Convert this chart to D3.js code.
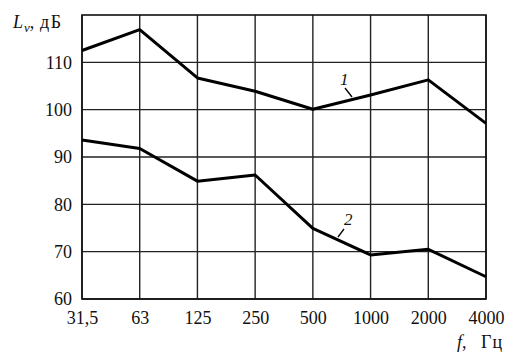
<!DOCTYPE html>
<html><head><meta charset="utf-8">
<script src="https://cdn.jsdelivr.net/npm/d3@7"></script>
<style>body{margin:0;background:#fff}svg{display:block}text{font-family:"Liberation Serif","Times New Roman","DejaVu Serif",serif;fill:#111}</style>
</head><body>
<svg id="c" width="516" height="360"></svg>
<script>
const categories = ["31,5","63","125","250","500","1000","2000","4000"];
const series1 = [112.5,116.9,106.7,103.9,100.1,103.1,106.3,97.1];
const series2 = [93.6,91.8,84.9,86.2,74.9,69.3,70.5,64.7];
const yTicks = [60,70,80,90,100,110];
const seriesLabels = ["1","2"];

const FF = "'Liberation Serif','Times New Roman','DejaVu Serif',serif";
const svg = d3.select("#c");
const L=82,R=486,T=15,B=299;
const x = d3.scalePoint().domain(categories).range([L,R]);
const y = d3.scaleLinear().domain([60,120]).range([B,T]);

const g = svg.append("g");
g.selectAll(".hg").data(yTicks).join("line")
 .attr("x1",L).attr("x2",R).attr("y1",d=>y(d)).attr("y2",d=>y(d))
 .attr("stroke","#222").attr("stroke-width",1.4);
g.selectAll(".vg").data(categories).join("line")
 .attr("y1",T).attr("y2",B).attr("x1",d=>x(d)).attr("x2",d=>x(d))
 .attr("stroke","#222").attr("stroke-width",1.4);
g.append("rect").attr("x",L).attr("y",T).attr("width",R-L).attr("height",B-T)
 .attr("fill","none").attr("stroke","#111").attr("stroke-width",1.6);

const ya = d3.axisLeft(y).tickValues(yTicks).tickSize(0).tickPadding(10);
const yg = svg.append("g").attr("transform",`translate(${L},0)`).call(ya);
yg.select(".domain").remove();
yg.attr("font-family",FF);
yg.selectAll("text").style("font-size","18px").style("font-family",FF).attr("fill","#111");
const xa = d3.axisBottom(x).tickSize(0).tickPadding(12);
const xg = svg.append("g").attr("transform",`translate(0,${B})`).call(xa);
xg.select(".domain").remove();
xg.attr("font-family",FF);
xg.selectAll("text").style("font-size","18px").style("font-family",FF).attr("fill","#111");

const line = d3.line().x((d,i)=>x(categories[i])).y(d=>y(d));
[series1,series2].forEach(s=>{
  svg.append("path").datum(s).attr("d",line).attr("fill","none")
   .attr("stroke","#000").attr("stroke-width",3).attr("stroke-linejoin","round");
});

svg.append("text").attr("x",340).attr("y",85).style("font-size","17px").style("font-style","italic").text(seriesLabels[0]);
svg.append("line").attr("x1",345).attr("y1",88).attr("x2",352).attr("y2",97).attr("stroke","#000").attr("stroke-width",1.3);
svg.append("text").attr("x",344).attr("y",225).style("font-size","17px").style("font-style","italic").text(seriesLabels[1]);
svg.append("line").attr("x1",344).attr("y1",229).attr("x2",338).attr("y2",237).attr("stroke","#000").attr("stroke-width",1.3);

const yt = svg.append("text").attr("x",13).attr("y",28).style("font-size","18px");
yt.append("tspan").style("font-style","italic").text("L");
yt.append("tspan").style("font-style","italic").style("font-size","13px").attr("dy",4).attr("dx",1).text("v");
yt.append("tspan").attr("dy",-4).text(",");
yt.append("tspan").attr("x",40).style("letter-spacing","1.5px").text("дБ");
const xt = svg.append("text").attr("y",348).style("font-size","18px");
xt.append("tspan").attr("x",457).style("font-style","italic").text("f");
xt.append("tspan").text(",");
xt.append("tspan").attr("x",481).style("letter-spacing","1px").text("Гц");
</script>
</body></html>
